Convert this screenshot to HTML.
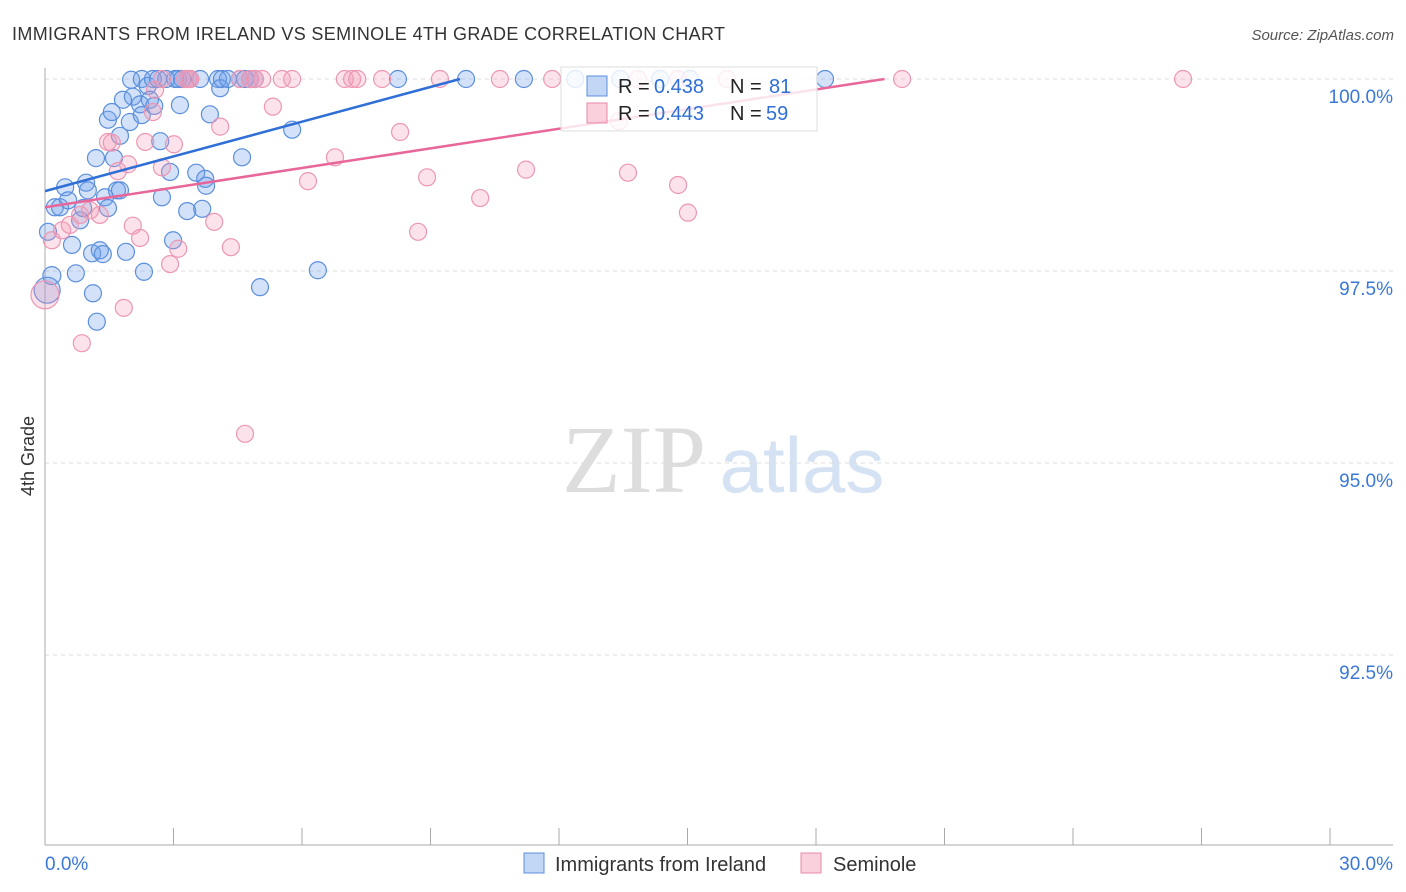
<!DOCTYPE html>
<html><head><meta charset="utf-8">
<style>
body{margin:0;background:#fff;font-family:"Liberation Sans",sans-serif;}
#wrap{position:relative;width:1406px;height:892px;overflow:hidden;}
</style></head>
<body>
<div id="wrap">
<svg id="svg" width="1406" height="892" xmlns="http://www.w3.org/2000/svg">
  <text x="12" y="40" font-size="18" fill="#333" textLength="713">IMMIGRANTS FROM IRELAND VS SEMINOLE 4TH GRADE CORRELATION CHART</text>
  <text x="1394" y="40" font-size="15" fill="#555" text-anchor="end" font-style="italic">Source: ZipAtlas.com</text>
  <text x="634" y="492" font-size="96" fill="#ddd" text-anchor="middle" font-family="Liberation Serif,serif">ZIP</text>
  <text x="802" y="492" font-size="78" fill="#d4e2f4" text-anchor="middle">atlas</text>
  <g id="grid"></g>
  <g id="axes"></g>
  <g id="pts"></g>
  <g id="trend"></g>
  <text transform="translate(34,456) rotate(-90)" font-size="18" fill="#333" text-anchor="middle">4th Grade</text>
  <g>
    <rect x="561" y="67" width="256" height="64" fill="rgba(255,255,255,0.82)" stroke="#ddd"/>
    <rect x="587" y="76" width="20" height="20" fill="rgba(120,165,235,0.45)" stroke="#5b8fdc"/>
    <text x="618" y="93" font-size="20" fill="#222">R =</text>
    <text x="654" y="93" font-size="20" fill="#2f6fd6">0.438</text>
    <text x="730" y="93" font-size="20" fill="#222">N =</text>
    <text x="769" y="93" font-size="20" fill="#2f6fd6">81</text>
    <rect x="587" y="103" width="20" height="20" fill="rgba(245,150,180,0.45)" stroke="#e68aa8"/>
    <text x="618" y="120" font-size="20" fill="#222">R =</text>
    <text x="654" y="120" font-size="20" fill="#2f6fd6">0.443</text>
    <text x="730" y="120" font-size="20" fill="#222">N =</text>
    <text x="766" y="120" font-size="20" fill="#2f6fd6">59</text>
  </g>
  <g>
    <rect x="524" y="853" width="20" height="20" fill="rgba(120,165,235,0.45)" stroke="#5b8fdc"/>
    <text x="555" y="871" font-size="20" fill="#333">Immigrants from Ireland</text>
    <rect x="801" y="853" width="20" height="20" fill="rgba(245,150,180,0.45)" stroke="#e68aa8"/>
    <text x="833" y="871" font-size="20" fill="#333">Seminole</text>
  </g>
</svg>
</div>
<script>
const blueX=[0.16,0.05,0.07,0.23,0.35,0.47,0.54,0.63,0.72,0.82,0.89,0.96,1.00,1.10,1.12,1.21,1.19,1.28,1.35,1.40,1.47,1.47,1.56,1.61,1.68,1.75,1.75,1.82,1.89,1.98,2.01,2.05,2.22,2.26,2.31,2.26,2.40,2.45,2.52,2.55,2.64,2.69,2.73,2.83,2.92,2.99,3.04,3.11,3.15,3.20,3.32,3.39,3.53,3.62,3.67,3.74,3.76,3.85,4.04,4.09,4.13,4.27,4.55,4.60,4.67,4.79,4.90,5.02,5.77,6.37,8.24,9.83,11.18,12.38,13.43,14.36,15.06,18.21];
const blueY=[97.44,97.25,98.01,98.33,98.33,98.59,98.42,97.84,97.47,98.16,98.32,98.65,98.55,97.73,97.21,96.84,98.97,97.77,97.72,98.46,99.47,98.32,99.57,98.97,98.55,98.55,99.26,99.73,97.75,99.44,99.99,99.77,99.67,100,97.49,99.53,99.91,99.73,100,99.65,100,99.19,98.46,100,98.79,97.90,100,100,99.66,100,98.28,100,98.78,100,98.31,98.70,98.61,99.54,100,99.88,100,100,100,98.98,100,100,100,97.29,99.34,97.51,100,100,100,100,100,100,100,100];
const blueR=[9,13,8.5,8.5,8.5,8.5,8.5,8.5,8.5,8.5,8.5,8.5,8.5,8.5,8.5,8.5,8.5,8.5,8.5,8.5,8.5,8.5,8.5,8.5,8.5,8.5,8.5,8.5,8.5,8.5,8.5,8.5,8.5,8.5,8.5,8.5,8.5,8.5,8.5,8.5,8.5,8.5,8.5,8.5,8.5,8.5,8.5,8.5,8.5,8.5,8.5,8.5,8.5,8.5,8.5,8.5,8.5,8.5,8.5,8.5,8.5,8.5,8.5,8.5,8.5,8.5,8.5,8.5,8.5,8.5,8.5,8.5,8.5,8.5,8.5,8.5,8.5,8.5];
const pinkX=[0,0.16,0.40,0.58,0.82,1.05,1.28,0.86,1.47,1.56,1.70,1.84,1.94,2.05,2.22,2.34,2.57,2.52,2.73,2.92,3.01,3.11,3.27,3.34,3.95,4.09,4.34,4.55,4.67,4.90,5.07,5.32,5.53,5.77,6.14,6.77,7.00,7.17,7.29,7.87,8.29,8.71,8.92,9.22,10.16,10.62,11.23,11.84,13.61,14.78,15.01,13.84,14.78,15.92,20.01,26.57,2.73,3.39,4.79,13.4];
const pinkY=[97.19,97.90,98.03,98.10,98.23,98.29,98.23,96.56,99.18,99.17,98.80,97.02,98.89,98.09,97.93,99.18,99.86,99.57,98.85,97.59,99.15,97.79,100,100,98.14,99.38,97.81,100,95.38,100,100,99.64,100,100,98.67,98.98,100,100,100,100,99.31,98.01,98.72,100,98.45,100,98.82,100,98.78,98.62,98.26,100,100,100,100,100,100,100,100,99.45];
const trendBlue=[0,98.54,9.69,100];
const trendPink=[0,98.33,19.6,100];
const yTicks=[100,97.5,95,92.5];
const yTickLabels=["100.0%","97.5%","95.0%","92.5%"];
const xTicks=[0,3,6,9,12,15,18,21,24,27,30];

const NS="http://www.w3.org/2000/svg";
function sx(v){return 45+v/30*1285;}
function sy(v){return 79+(100-v)/2.5*192;}
function mk(tag,attrs,parent){const e=document.createElementNS(NS,tag);for(const k in attrs)e.setAttribute(k,attrs[k]);parent.appendChild(e);return e;}
const grid=document.getElementById('grid'),axes=document.getElementById('axes'),pts=document.getElementById('pts'),trend=document.getElementById('trend');
yTicks.forEach((t,i)=>{
  const l=mk('line',{x1:45,x2:1393,y1:sy(t),y2:sy(t),stroke:'#ddd','stroke-dasharray':'4,4'},grid);
  
  
  const tx=mk('text',{x:1393,y:sy(t)+24,'font-size':19,fill:'#3a78d8','text-anchor':'end'},grid);
  tx.textContent=yTickLabels[i];
  
  
});
const ya=mk('line',{x1:45,x2:45,y1:68,y2:845,stroke:'#aaa'},axes);


const xa=mk('line',{x1:45,x2:1393,y1:845,y2:845,stroke:'#aaa'},axes);


xTicks.forEach(t=>{
  const l=mk('line',{x1:sx(t),x2:sx(t),y1:828,y2:845,stroke:'#aaa'},axes);
  
  
});
const xl0=mk('text',{x:45,y:870,'font-size':19,fill:'#3a78d8'},axes);xl0.textContent=xTicks[0].toFixed(1)+'%';


const xl1=mk('text',{x:1393,y:870,'font-size':19,fill:'#3a78d8','text-anchor':'end'},axes);xl1.textContent=xTicks[xTicks.length-1].toFixed(1)+'%';


blueX.forEach((x,i)=>{
  const c=mk('circle',{cx:sx(x),cy:sy(blueY[i]),r:blueR[i],fill:'rgba(110,160,235,0.3)',stroke:'#5b8fdc','stroke-width':1.2},pts);
  
  
});
pinkX.forEach((x,i)=>{
  const c=mk('circle',{cx:sx(x),cy:sy(pinkY[i]),r:i===0?14:8.5,fill:'rgba(245,150,180,0.28)',stroke:'#ec97b3','stroke-width':1.2},pts);
  
  
});
const tb=mk('line',{x1:sx(trendBlue[0]),y1:sy(trendBlue[1]),x2:sx(trendBlue[2]),y2:sy(trendBlue[3]),stroke:'#2f6fd6','stroke-width':2.5},trend);


const tp=mk('line',{x1:sx(trendPink[0]),y1:sy(trendPink[1]),x2:sx(trendPink[2]),y2:sy(trendPink[3]),stroke:'#e8679a','stroke-width':2.5},trend);


</script>
</body></html>
